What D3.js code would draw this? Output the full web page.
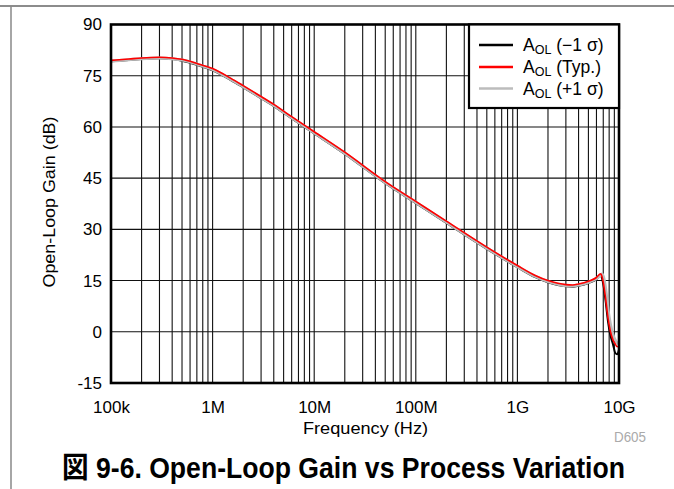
<!DOCTYPE html>
<html>
<head>
<meta charset="utf-8">
<script src="https://cdn.jsdelivr.net/npm/d3@7"></script>
<style>
  html, body { margin: 0; padding: 0; background: #fff; }
  svg { display: block; font-family: "Liberation Sans", Arial, sans-serif; }
</style>
</head>
<body>
<svg id="chart" width="674" height="489"></svg>
<script>
// ---- data ----
const freqHz = [1e5, 1.5e5, 2e5, 3e5, 4e5, 5e5, 7e5, 1e6, 1.5e6, 2e6, 3e6, 4e6, 6e6, 1e7, 2e7, 5e7, 1e8, 2e8, 5e8,
  1e9, 1.5e9, 2e9, 2.5e9, 3e9, 3.5e9, 4e9, 5e9, 6e9, 6.6e9, 6.8e9, 7.0e9, 7.4e9, 7.8e9, 8.2e9, 8.7e9, 9.2e9, 9.6e9, 1e10];
const aolMinus = [79.2, 79.6, 79.9, 80.1, 79.9, 79.4, 78.2, 76.6, 73.8, 71.6, 68.4, 66.1, 62.5, 58.1, 52.1, 43.5, 37.7, 31.9, 24.3,
  18.9, 16.0, 14.5, 13.7, 13.3, 13.2, 13.5, 14.3, 15.4, 16.6, 15.7, 14.0, 8.8, 3.0, -0.8, -3.5, -6.2, -6.6, -5.3];
const aolTyp = [79.5, 79.9, 80.2, 80.4, 80.2, 79.8, 78.6, 77.1, 74.3, 72.1, 68.9, 66.6, 63.0, 58.6, 52.6, 44.0, 38.2, 32.4, 24.8,
  19.4, 16.5, 15.0, 14.2, 13.8, 13.7, 14.0, 14.8, 15.9, 17.0, 16.2, 14.5, 9.5, 4.0, 0.3, -2.3, -3.6, -4.4, -4.0];
const aolPlus = [79.3, 79.7, 80.0, 80.2, 80.0, 79.6, 78.4, 76.8, 74.0, 71.8, 68.6, 66.3, 62.7, 58.3, 52.3, 43.7, 37.9, 32.1, 24.5,
  19.1, 16.2, 14.7, 13.9, 13.5, 13.4, 13.7, 14.5, 15.6, 16.6, 16.9, 16.3, 12.5, 6.5, 2.5, -0.8, -2.5, -3.3, -3.5];
const seriesNames = ["−1 σ", "Typ.", "+1 σ"];
const seriesColors = ["#000000", "#ff0000", "#bcbcbc"];
const xTickValues = [1e5, 1e6, 1e7, 1e8, 1e9, 1e10];
const xTickLabels = ["100k", "1M", "10M", "100M", "1G", "10G"];
const yTickValues = [90, 75, 60, 45, 30, 15, 0, -15];
const yTickLabels = ["90", "75", "60", "45", "30", "15", "0", "-15"];
const xTitle = "Frequency (Hz)";
const yTitle = "Open-Loop Gain (dB)";
const figTitle = "図 9-6. Open-Loop Gain vs Process Variation";
const codeLabel = "D605";

// ---- layout ----
const svg = d3.select("#chart");
const L = 111, R = 619, T = 24.5, B = 383;
const x = d3.scaleLog().domain([1e5, 1e10]).range([L, R]);
const y = d3.scaleLinear().domain([-15, 90]).range([B, T]);

// page frame lines
svg.append("line").attr("x1", 0).attr("x2", 674).attr("y1", 6).attr("y2", 6)
  .attr("stroke", "#666").attr("stroke-width", 1.5);
svg.append("line").attr("x1", 11).attr("x2", 11).attr("y1", 6).attr("y2", 489)
  .attr("stroke", "#888").attr("stroke-width", 1.5);

// grid
const grid = svg.append("g");
const minorX = [];
for (let d = 1e5; d < 1e10; d *= 10) for (let m = 1; m < 10; m++) minorX.push(d * m);
grid.selectAll("line.vx").data(minorX).enter().append("line")
  .attr("x1", d => x(d)).attr("x2", d => x(d)).attr("y1", T).attr("y2", B)
  .attr("stroke", "#111").attr("stroke-width", 1.1);
grid.selectAll("line.hy").data(yTickValues).enter().append("line")
  .attr("x1", L).attr("x2", R).attr("y1", d => y(d)).attr("y2", d => y(d))
  .attr("stroke", "#111").attr("stroke-width", 1.1);

// curves
svg.append("clipPath").attr("id", "clip").append("rect")
  .attr("x", L).attr("y", T).attr("width", R - L).attr("height", B - T);
const line = d3.line().x(d => x(d[0])).y(d => y(d[1])).curve(d3.curveMonotoneX);
const curves = svg.append("g").attr("clip-path", "url(#clip)");
const drawOrder = [
  {vals: aolMinus, color: seriesColors[0], w: 2},
  {vals: aolPlus, color: seriesColors[2], w: 3},
  {vals: aolTyp, color: seriesColors[1], w: 1.6}
];
drawOrder.forEach(s => {
  curves.append("path").datum(freqHz.map((f, i) => [f, s.vals[i]]))
    .attr("d", line).attr("fill", "none").attr("stroke", s.color)
    .attr("stroke-width", s.w).attr("stroke-linejoin", "round");
});

// plot border
svg.append("rect").attr("x", L).attr("y", T).attr("width", R - L).attr("height", B - T)
  .attr("fill", "none").attr("stroke", "#000").attr("stroke-width", 2.6);

// axes tick labels
const xAxis = d3.axisBottom(x).tickValues(xTickValues)
  .tickFormat((d, i) => xTickLabels[i]).tickSize(0).tickPadding(0);
const gx = svg.append("g").attr("transform", `translate(0,${B})`).call(xAxis);
gx.select(".domain").remove();
gx.selectAll("text").attr("font-size", 17).attr("fill", "#000")
  .attr("font-family", "Liberation Sans, Arial, sans-serif")
  .attr("dy", null).attr("y", 30);

const yAxis = d3.axisLeft(y).tickValues(yTickValues)
  .tickFormat((d, i) => yTickLabels[i]).tickSize(0).tickPadding(9);
const gy = svg.append("g").attr("transform", `translate(${L},0)`).call(yAxis);
gy.select(".domain").remove();
gy.selectAll("text").attr("font-size", 17).attr("fill", "#000")
  .attr("font-family", "Liberation Sans, Arial, sans-serif");

// axis titles
svg.append("text").attr("x", 365.5).attr("y", 434).attr("text-anchor", "middle")
  .attr("font-size", 17).attr("textLength", 125).attr("lengthAdjust", "spacingAndGlyphs")
  .text(xTitle);
svg.append("text").attr("transform", "translate(55,202) rotate(-90)").attr("text-anchor", "middle")
  .attr("font-size", 17).attr("textLength", 171).attr("lengthAdjust", "spacingAndGlyphs")
  .text(yTitle);

// code label
svg.append("text").attr("x", 630).attr("y", 442).attr("text-anchor", "middle")
  .attr("font-size", 14).attr("fill", "#aaaaaa").attr("textLength", 32)
  .attr("lengthAdjust", "spacingAndGlyphs").text(codeLabel);

// figure title (slightly tall, condensed glyphs as in the reference)
svg.append("text").attr("transform", "translate(343.5,478) scale(1,1.1)")
  .attr("text-anchor", "middle")
  .attr("font-size", 26.5).attr("font-weight", "bold")
  .attr("font-family", "Liberation Sans, 'Noto Sans CJK JP', sans-serif")
  .attr("textLength", 563).attr("lengthAdjust", "spacingAndGlyphs")
  .text(figTitle);

// legend
const lg = svg.append("g");
lg.append("rect").attr("x", 469).attr("y", T).attr("width", R - 469).attr("height", 108 - T)
  .attr("fill", "#fff").attr("stroke", "#000").attr("stroke-width", 2.2);
const rowY = [45, 67, 88.5];
seriesNames.forEach((n, i) => {
  lg.append("line").attr("x1", 479).attr("x2", 513).attr("y1", rowY[i]).attr("y2", rowY[i])
    .attr("stroke", seriesColors[i]).attr("stroke-width", 2.5);
  const t = lg.append("text").attr("x", 523).attr("y", rowY[i] + 6).attr("font-size", 17.5);
  t.append("tspan").text("A");
  t.append("tspan").attr("font-size", 12.5).attr("dy", 3).text("OL");
  t.append("tspan").attr("dy", -3).text(" (" + n + ")");
});
</script>
</body>
</html>
